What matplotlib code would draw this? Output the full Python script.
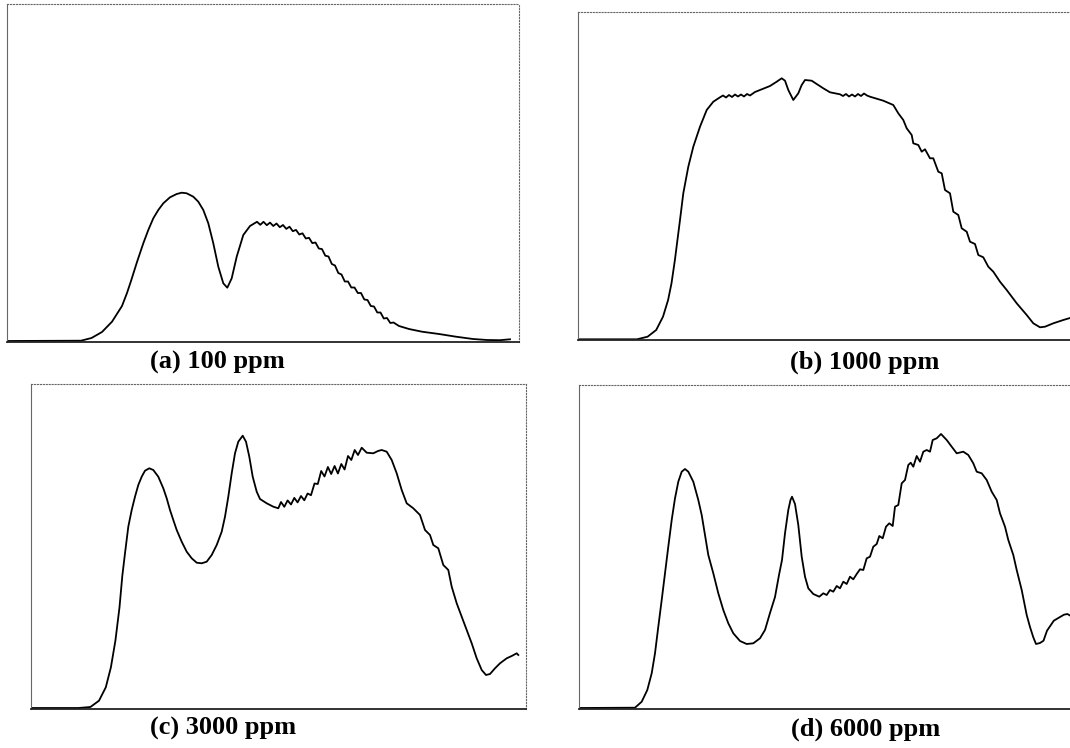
import numpy as np
import matplotlib
matplotlib.use("Agg")
import matplotlib.pyplot as plt

# spectra (channel, intensity in a.u.)
a_x = [0, 74, 84.5, 95, 105, 115, 120, 124, 130, 136.3, 141.3, 146.3, 151.3, 156.3, 163, 169.7, 174.7, 179.7, 186.3, 191.3,
       196.3, 201.3, 206.3, 211.3, 216.3, 220.3, 224.7, 229.7, 236.3, 243,
       250, 253.3, 256.5, 259.8, 263, 266.3, 269.5, 272.8, 276, 279.3, 282.5, 285.8, 289, 292.3, 295.5, 298.8, 302, 305.3,
       308.5, 311.8, 315, 318.3, 321.5, 324.8, 328, 331.3, 334.5, 337.8, 341, 344.3, 347.5, 350.8, 354, 357.3, 360.5, 363.8,
       367, 370.3, 373.5, 376.8, 380, 383.3, 386.5,
       392, 402, 415, 432, 449, 466, 480, 493, 503]
a_y = [1, 1.3, 4, 10, 20.3, 36, 49, 61, 80, 98.7, 112, 123.7, 132, 138.7, 144.7, 148, 149.3, 148.7, 145.3, 140.3,
       132, 118.7, 98.7, 75.3, 58.7, 54.3, 63.7, 85.3, 107, 116,
       120.2, 117.2, 120.2, 116.8, 119.4, 116, 118.5, 114.8, 117, 113.1, 115.3, 110.8, 112.1, 107.5, 108.7, 103.5, 104.2, 98.9,
       99.5, 93.5, 92.9, 86.3, 85.5, 78, 76.5, 69, 67.5, 60.5, 60.5, 54.5, 54.5, 49, 49, 42.5, 42, 36,
       35.5, 29.5, 29.5, 23.5, 24, 19, 19.5,
       16, 13, 10.3, 8, 5.3, 3, 2, 1.8, 2.7]

b_x = [0.5, 59, 69.6, 78.2, 85, 90.1, 93.5, 96.9, 100.3, 102, 105.3, 110.3, 115.3, 122, 128.7, 135.3, 142,
       145, 148, 151, 154, 157, 160, 163, 166, 169, 172, 177, 182, 187, 192, 198.7, 203.7, 207, 210.3, 215.3, 220.3,
       223.7, 227, 233.7, 238.7, 245.3, 252, 262, 265, 268, 271, 274, 277, 280, 283, 286, 289, 292, 305.3, 315.3,
       320.3, 325.3, 328.7, 333.7, 335.3, 340.3, 343.7, 347, 352, 355.3, 360.3, 363.7, 367, 372, 375.3, 380.3, 383.7,
       388.7, 392, 397, 400.3, 405.3, 410.3, 415.3, 422, 428.7, 438.7, 448.7, 455.3, 462, 467, 475.3, 485.3, 492]
b_y = [0.7, 0.7, 3.3, 10, 23.3, 40, 56.7, 80, 106.7, 120, 146.7, 173.3, 193.3, 213.3, 230, 238.3, 242.7,
       244.5, 242.5, 245, 243, 245.5, 243.5, 245.5, 243.5, 246, 244.5, 248, 250, 252, 254, 258.3, 261.7, 259.3, 250, 240, 246.7,
       255, 260, 259.3, 256, 251.7, 247.7, 245.7, 244, 246, 243.5, 245.5, 243.5, 246, 244, 246.5, 244.5, 243.3, 239.3, 235,
       226.7, 220, 211.7, 205, 196.7, 195, 188.3, 190.7, 181.7, 181.7, 168.3, 166.7, 150, 146.7, 128.3, 125, 111.7,
       108.3, 98.3, 96, 85, 82.7, 73.3, 68.3, 58.3, 50, 36.7, 25, 16.7, 12.7, 13.3, 16.7, 20, 22]

c_x = [0, 47.5, 59.4, 68, 74.8, 79.9, 84.4, 88.5, 91.3, 94, 97.3, 100.7, 104, 107.3, 110.7, 114, 118.3, 122.3, 127.3, 132.3,
       135.7, 139, 142.3, 145.7, 150.7, 155.7, 160.7, 165.7, 170.7, 175.7, 180.7, 185.7, 190.7, 194, 197.3, 200.7, 204, 207.3,
       211.7, 215, 218.3, 221.7, 225.7, 229, 235.7, 242.3, 247.3,
       250, 253.3, 256.6, 260, 263.3, 266.6, 270, 273.3, 276.6, 280, 283.5, 286.8, 290.2, 293.5, 296.9, 300.2, 303.6, 306.9,
       310.3, 313.6, 317, 320.3, 323.7, 327, 330.7, 335.7, 342.3, 347, 350.7, 355.7,
       360.7, 365.7, 370.7, 375.7, 382.3, 389, 394, 399, 402.3, 407.3, 412.3, 417.3, 420.7, 425.7, 430.7, 435.7, 440.7,
       445.7, 450.7, 455, 459, 464, 469, 475.7, 480.7, 485.7, 487.3]
c_y = [1, 1, 2, 8.3, 21.7, 41.7, 68.3, 101.7, 133, 155.7, 182.3, 199, 212.3, 224, 232.3, 238.3, 240.7, 239, 232.3, 220.7,
       210.7, 199, 189, 179, 167.3, 157.3, 150.7, 146.3, 145.7, 147.3, 154, 164, 177.3, 192.3, 212.3, 235.7, 255.7, 267.3,
       273.3, 267.3, 252.3, 232.3, 217.3, 210, 205.7, 202.3, 200.7,
       207, 202.2, 208.6, 204.5, 211.1, 206.6, 213, 208.7, 215.5, 213.8, 225.5, 225, 238, 232.5, 242, 235, 243, 235.5,
       245, 239.5, 253, 249, 259, 254, 261.3, 256.3, 255.7, 258, 259, 257.3,
       249, 235.7, 219, 205.7, 200.7, 194, 179, 174, 164, 160.7, 144, 139, 122.3, 105.7, 92.3, 79, 65.7,
       50.7, 39, 34, 35, 40.7, 45.7, 50.7, 53, 55.7, 54]

d_x = [0, 56, 62.7, 68.3, 72.7, 76, 79.3, 82.7, 86, 89.3, 92.7, 96, 99.3, 102.7, 106, 109.3, 114.3, 119.3, 122.7, 126,
       129.3, 134.3, 139.3, 144.3, 149.3, 154.3, 161, 167.7, 174.3, 181, 186, 191, 196, 200, 203, 206, 209.3, 211.5, 213, 216,
       219.3, 222.7, 226, 229.3, 234.3, 240.3, 244.3, 247.7, 251, 254.3, 257.7, 261, 264.3, 267.7, 271, 274.3, 277.7, 281,
       284.3, 287.7, 291, 294.3, 297.7, 300.3, 303.7, 307, 310.3, 313.7, 316, 319.3, 322.7, 326, 329.3, 331.7, 334.3, 337.7,
       341, 344.3, 347.7, 351, 353.7, 357.7, 362, 367.7, 372.7, 377.7, 384.3, 389.3, 394.3, 397.7, 402.7, 407.7, 412.7,
       417.7, 421, 426, 429.3, 434.3, 437.7, 442.7, 447.7, 451, 454.3, 457, 461, 464.5, 468, 474.8, 481, 485, 488.4, 491]
d_y = [1, 1.3, 7.3, 19, 35.7, 55.7, 82.3, 109, 135.7, 162.3, 189, 210.7, 227.3, 237.3, 240, 237.3, 227.3, 209, 194, 174,
       154, 135.7, 115.7, 99, 85.7, 75.7, 68, 65, 65.7, 70.7, 79, 96, 112, 134, 149, 175.7, 199, 209, 212.3, 205,
       184, 152.3, 132.3, 120.7, 115, 112.3, 115.7, 114, 119, 117.3, 123, 120.7, 127.3, 125, 132.3, 129.7, 135, 139.7,
       139, 150.7, 152.3, 162.3, 165, 173, 170.7, 182.3, 185.7, 183, 202.3, 204, 225.7, 229, 244, 246.3, 242.3, 253,
       247.3, 257.3, 259, 257.3, 269, 270.7, 275, 269, 262.3, 255.7, 257.3, 254, 245.7, 237.3, 235.7, 229, 217.3,
       209, 195.7, 182.3, 169, 154, 139, 119, 94, 82, 71.7, 65, 66, 68.3, 78.3, 88.3, 92, 94.3, 95, 93.5]

labels = ['(a) 100 ppm', '(b) 1000 ppm', '(c) 3000 ppm', '(d) 6000 ppm']

W, H = 1070, 748
# panel boxes in pixels: left, bottom, width, height ; label centre
boxes = [(7, 342, 512, 338), (578, 340, 512, 328), (31, 709, 495, 325), (579, 709, 511, 324)]
label_pos = [(217, 362), (865, 362), (223, 728), (866, 729)]

fig = plt.figure(figsize=(W / 100, H / 100), dpi=100)

for (x, y), lab, (l, b, w, h), (tx, ty) in zip(
        [(a_x, a_y), (b_x, b_y), (c_x, c_y), (d_x, d_y)], labels, boxes, label_pos):
    ax = fig.add_axes([l / W, 1 - b / H, w / W, h / H])
    ax.plot(x, y, color='black', lw=1.3, solid_joinstyle='round')
    ax.set_xlim(0, w)
    ax.set_ylim(0, h)
    ax.set_xticks([])
    ax.set_yticks([])
    for side in ['top', 'right']:
        ax.spines[side].set_linestyle(':')
        ax.spines[side].set_color('#666666')
        ax.spines[side].set_linewidth(0.8)
    ax.spines['left'].set_color('#666666')
    ax.spines['left'].set_linewidth(0.8)
    ax.spines['bottom'].set_color('#222222')
    ax.spines['bottom'].set_linewidth(1.3)
    fig.text(tx / W, 1 - ty / H, lab, ha='center', va='center',
             fontsize=19, fontweight='bold', family=['Liberation Serif', 'DejaVu Serif'])

fig.savefig('out.png', dpi=100)
